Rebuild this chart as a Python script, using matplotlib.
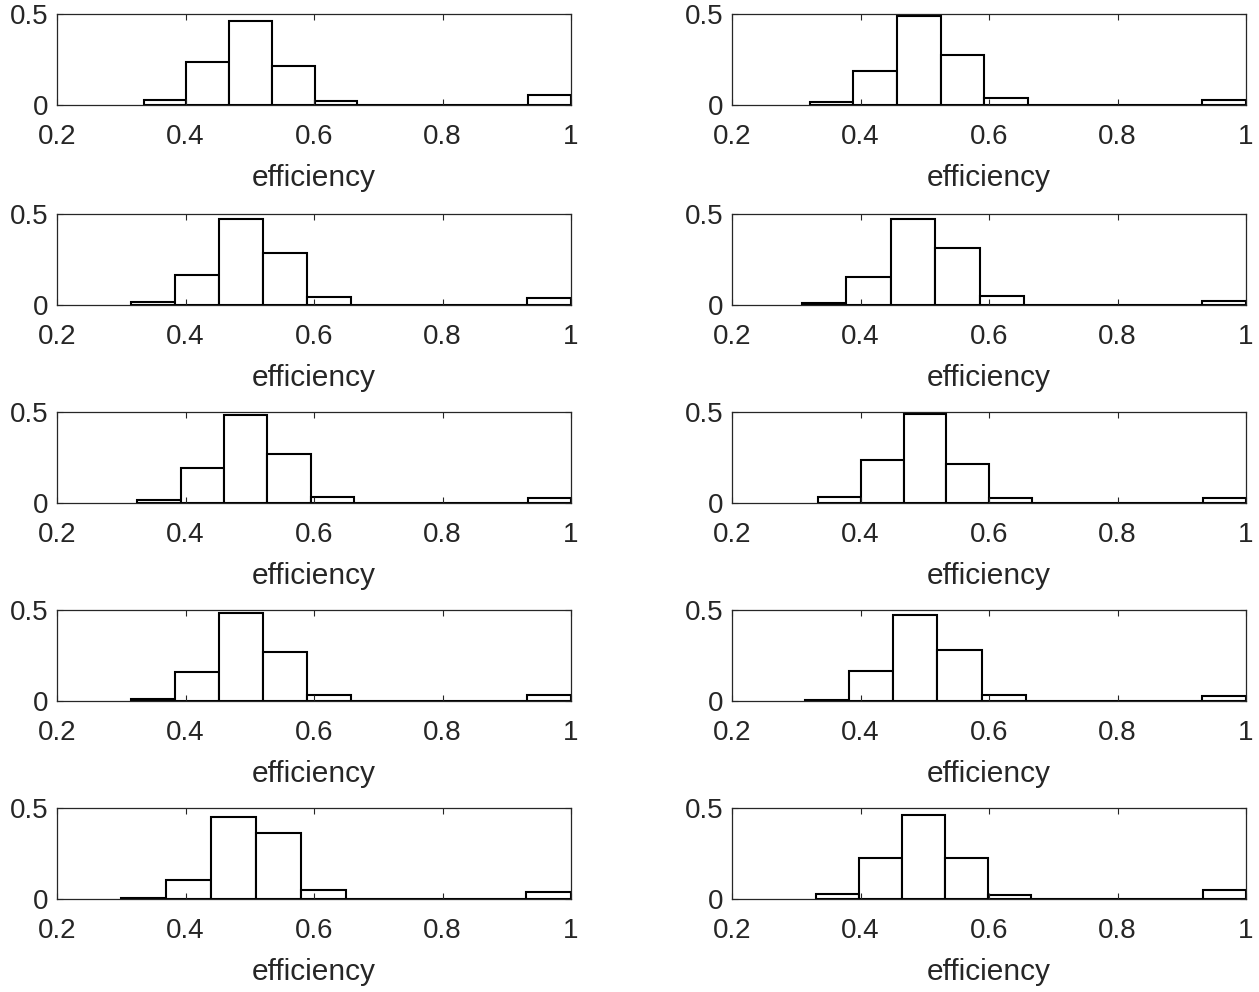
import numpy as np
import matplotlib
matplotlib.use("Agg")
import matplotlib.pyplot as plt

plt.rcParams['font.family'] = ['Liberation Sans', 'DejaVu Sans']

# lower edge of the first bin for each panel (10 equal bins up to 1.0)
bin_start = [0.335, 0.321, 0.315, 0.309, 0.325, 0.334, 0.315, 0.314, 0.299, 0.331]

# relative frequencies (row by row, left then right)
freqs = [
    [0.027, 0.237, 0.464, 0.212, 0.023, 0.002, 0.001, 0.001, 0.001, 0.056],
    [0.016, 0.185, 0.491, 0.272, 0.036, 0.002, 0.001, 0.001, 0.001, 0.027],
    [0.014, 0.167, 0.473, 0.284, 0.043, 0.002, 0.001, 0.001, 0.001, 0.038],
    [0.011, 0.153, 0.471, 0.315, 0.049, 0.002, 0.001, 0.001, 0.001, 0.022],
    [0.018, 0.195, 0.484, 0.267, 0.031, 0.002, 0.001, 0.001, 0.001, 0.029],
    [0.031, 0.235, 0.489, 0.217, 0.025, 0.002, 0.001, 0.001, 0.001, 0.027],
    [0.009, 0.160, 0.483, 0.271, 0.033, 0.002, 0.001, 0.001, 0.001, 0.032],
    [0.007, 0.165, 0.472, 0.279, 0.033, 0.002, 0.001, 0.001, 0.001, 0.028],
    [0.007, 0.103, 0.453, 0.365, 0.049, 0.002, 0.001, 0.001, 0.001, 0.036],
    [0.025, 0.225, 0.460, 0.227, 0.023, 0.002, 0.001, 0.001, 0.001, 0.052],
]

xticks = [0.2, 0.4, 0.6, 0.8, 1.0]
xtick_labels = ["0.2", "0.4", "0.6", "0.8", "1"]
yticks = [0, 0.5]
ytick_labels = ["0", "0.5"]

W, H = 1259, 992
fig = plt.figure(figsize=(W / 100, H / 100), dpi=100)

col_left = [57, 732]
col_width = 514
row_top = [14, 214, 412, 610, 808]
ax_height = 91
gray = "#262626"

for i in range(10):
    r, c = i // 2, i % 2
    ax = fig.add_axes([col_left[c] / W, 1 - (row_top[r] + ax_height) / H,
                       col_width / W, ax_height / H])
    edges = np.linspace(bin_start[i], 1.0, 11)
    ax.bar(edges[:-1], freqs[i], width=np.diff(edges), align='edge',
           color='white', edgecolor='black', linewidth=1.5)
    ax.set_xlim(0.2, 1.0)
    ax.set_ylim(0, 0.5)
    ax.set_xticks(xticks)
    ax.set_xticklabels(xtick_labels)
    ax.set_yticks(yticks)
    ax.set_yticklabels(ytick_labels)
    ax.tick_params(direction='in', top=True, right=True, length=4,
                   width=0.8, colors=gray, labelsize=20)
    ax.tick_params(axis='x', pad=14)
    ax.tick_params(axis='y', pad=6)
    for s in ax.spines.values():
        s.set_color(gray)
        s.set_linewidth(0.9)
    ax.set_xlabel("efficiency", fontsize=21.5, color=gray, labelpad=10)

fig.savefig("out.png", dpi=100)
